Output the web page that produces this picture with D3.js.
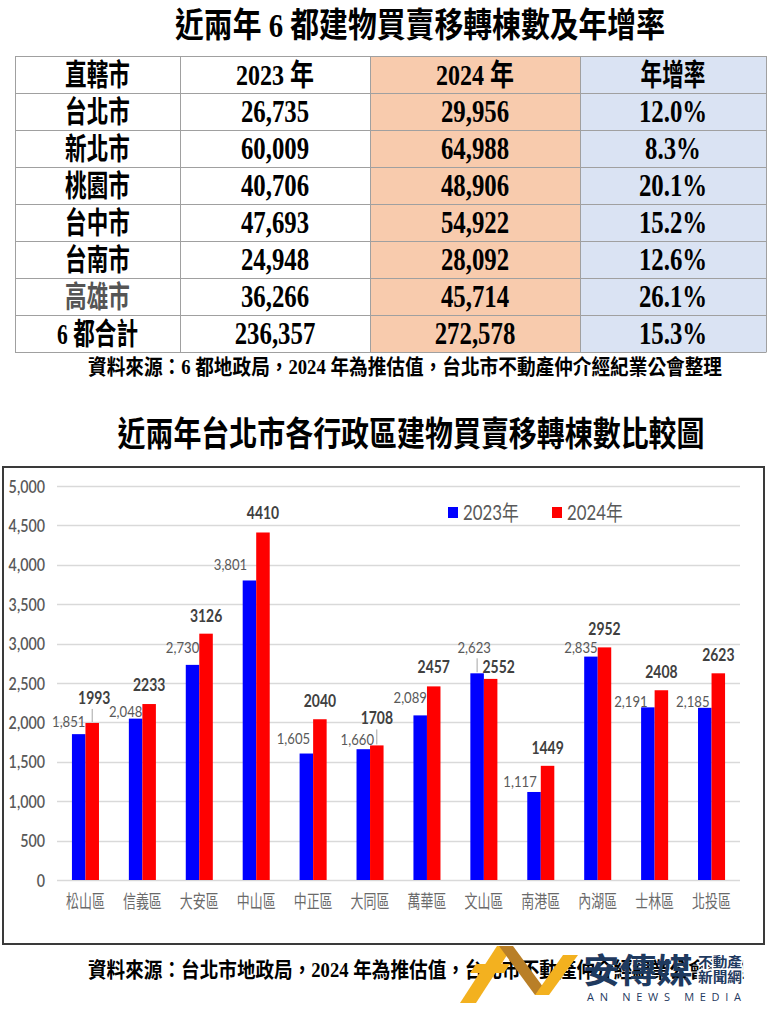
<!DOCTYPE html>
<html><head><meta charset="utf-8">
<script src="https://cdn.jsdelivr.net/npm/d3@7"></script>
<style>body{margin:0;background:#fff}svg{display:block}</style>
</head><body>
<svg id="c" width="768" height="1024"></svg>
<script>
// ---------------- data ----------------
const tableHeaders = ["直轄市", "2023 年", "2024 年", "年增率"];
const tableCities = ["台北市", "新北市", "桃園市", "台中市", "台南市", "高雄市", "6 都合計"];
const table2023 = [26735, 60009, 40706, 47693, 24948, 36266, 236357];
const table2024 = [29956, 64988, 48906, 54922, 28092, 45714, 272578];
const tableGrowth = [12.0, 8.3, 20.1, 15.2, 12.6, 26.1, 15.3];

const districts = ["松山區", "信義區", "大安區", "中山區", "中正區", "大同區", "萬華區", "文山區", "南港區", "內湖區", "士林區", "北投區"];
const values2023 = [1851, 2048, 2730, 3801, 1605, 1660, 2089, 2623, 1117, 2835, 2191, 2185];
const values2024 = [1993, 2233, 3126, 4410, 2040, 1708, 2457, 2552, 1449, 2952, 2408, 2623];
const seriesNames = ["2023年", "2024年"];
const yTicks = [0, 500, 1000, 1500, 2000, 2500, 3000, 3500, 4000, 4500, 5000];

const title1 = "近兩年 6 都建物買賣移轉棟數及年增率";
const title2 = "近兩年台北市各行政區建物買賣移轉棟數比較圖";
const note1 = "資料來源：6 都地政局，2024 年為推估值，台北市不動產仲介經紀業公會整理";
const note2 = "資料來源：台北市地政局，2024 年為推估值，台北市不動產仲介經紀業公會整理";

// label placement tweaks (layout only) [dx, dy]
const nudge2023 = [[0,-1],[0,4],[0,-6],[-9,-4],[-3,-4],[4,2],[0,-6],[7,-14],[-4,1],[0,2],[-7,6],[-2,5]];
const nudge2024 = [[2,-7],[0,-1],[0,0],[0,-1],[0,0],[0,-9],[0,-1],[8,6],[0,0],[0,0],[0,0],[0,0]];
const leaders = [["松山區", 1], ["大同區", 1], ["文山區", 0]];

// ---------------- helpers ----------------
const svg = d3.select("#c");
const SERIF = "'Liberation Serif','Noto Sans CJK TC',serif";
const CJK = "'Noto Sans CJK TC',sans-serif";
const SANS = "Lato,'Noto Sans CJK TC',sans-serif";

function ctext(parent, x, y, str, o) {
  const t = parent.append("text")
    .attr("transform", `translate(${x},${y}) scale(${o.sx || 1},1)`)
    .attr("text-anchor", o.anchor || "middle")
    .attr("font-family", o.family || SERIF)
    .attr("font-size", o.size)
    .attr("font-weight", o.weight || "normal")
    .attr("fill", o.fill || "#000")
    .text(str);
  if (o.len) t.attr("textLength", o.len).attr("lengthAdjust", o.adjust || "spacingAndGlyphs");
  return t;
}

// ---------------- title 1 ----------------
ctext(svg, 420, 37, title1, {size: 34, weight: "bold", len: 490});

// ---------------- table ----------------
const colEdges = [15, 180, 370, 580, 766];
const colFill = [null, null, "#f8cbad", "#dae3f3"];
const rowKeys = ["__h"].concat(tableCities);
const rowY = d3.scaleBand().domain(rowKeys).range([56, 352]);
const tg = svg.append("g");

colFill.forEach((f, i) => {
  if (f) tg.append("rect").attr("x", colEdges[i]).attr("y", rowY.range()[0])
    .attr("width", colEdges[i + 1] - colEdges[i]).attr("height", rowY.range()[1] - rowY.range()[0]).attr("fill", f);
});
rowKeys.forEach(k => {
  tg.append("line").attr("x1", colEdges[0]).attr("x2", colEdges[4])
    .attr("y1", rowY(k) + 0.5).attr("y2", rowY(k) + 0.5).attr("stroke", "#a0a0a0");
});
tg.append("line").attr("x1", colEdges[0]).attr("x2", colEdges[4])
  .attr("y1", 352.5).attr("y2", 352.5).attr("stroke", "#a0a0a0");
colEdges.forEach(x => {
  tg.append("line").attr("x1", x + 0.5).attr("x2", x + 0.5)
    .attr("y1", 56).attr("y2", 352.5).attr("stroke", "#a0a0a0");
});
const colCenter = i => (colEdges[i] + colEdges[i + 1]) / 2;
const fmtComma = d3.format(",");
const fmtPct = d => d3.format(".1f")(d) + "%";

tableHeaders.forEach((h, i) => {
  ctext(tg, colCenter(i), rowY("__h") + rowY.bandwidth() / 2 + 10, h,
    {size: 30, weight: "bold", sx: i === 0 || i === 3 ? 0.72 : 0.8});
});
tableCities.forEach((c, r) => {
  const yy = rowY(c) + rowY.bandwidth() / 2 + 10;
  ctext(tg, colCenter(0), yy, c, {size: 30, weight: "bold", sx: 0.72, fill: c === "高雄市" ? "#555" : "#000"});
  ctext(tg, colCenter(1), yy, fmtComma(table2023[r]), {size: 31, weight: "bold", sx: 0.8});
  ctext(tg, colCenter(2), yy, fmtComma(table2024[r]), {size: 31, weight: "bold", sx: 0.8});
  ctext(tg, colCenter(3), yy, fmtPct(tableGrowth[r]), {size: 31, weight: "bold", sx: 0.8});
});

ctext(svg, 405, 374, note1, {size: 21, weight: "bold", len: 634});

// ---------------- title 2 ----------------
ctext(svg, 411, 446, title2, {size: 34, weight: "bold", len: 587});

// ---------------- chart ----------------
svg.append("rect").attr("x", 3).attr("y", 467).attr("width", 761).attr("height", 477)
  .attr("fill", "#fff").attr("stroke", "#3a3a3a").attr("stroke-width", 2);

const x0 = d3.scaleBand().domain(districts).range([57, 740]).paddingInner(0.525).paddingOuter(0.2625);
const x1 = d3.scaleBand().domain(seriesNames).range([0, x0.bandwidth()]);
const y = d3.scaleLinear().domain([0, 5000]).range([880, 486]);
const colors = {"2023年": "#0000ff", "2024年": "#ff0000"};

const grid = svg.append("g");
grid.selectAll("line").data(yTicks).join("line")
  .attr("x1", 57).attr("x2", 740)
  .attr("y1", d => Math.round(y(d)) + 0.5).attr("y2", d => Math.round(y(d)) + 0.5)
  .attr("stroke", "#d9d9d9").attr("stroke-width", 1.3);

const yAxis = svg.append("g").attr("transform", "translate(45,0)")
  .call(d3.axisLeft(y).tickValues(yTicks).tickFormat(d3.format(",")).tickSize(0).tickPadding(0));
yAxis.select(".domain").remove();
yAxis.selectAll("text").attr("x", 0).attr("dy", "0.36em").attr("transform", "scale(0.84,1)")
  .attr("font-family", SANS).attr("font-size", 17).attr("font-weight", 600).attr("fill", "#595959");

const xAxis = svg.append("g").attr("transform", "translate(0,880)")
  .call(d3.axisBottom(x0).tickSize(0).tickPadding(0));
xAxis.select(".domain").remove();
xAxis.selectAll("text").attr("y", 0).attr("dy", null).attr("transform", "translate(0,28) scale(0.72,1)")
  .attr("font-family", CJK).attr("font-size", 18).attr("fill", "#6a6a6a");

const rows = districts.map((d, i) => ({d, i, vals: [values2023[i], values2024[i]]}));
const bars = svg.append("g");
rows.forEach(r => {
  r.vals.forEach((v, s) => {
    const name = seriesNames[s];
    bars.append("rect")
      .attr("x", x0(r.d) + x1(name)).attr("width", x1.bandwidth())
      .attr("y", y(v)).attr("height", y(0) - y(v))
      .attr("fill", colors[name]);
  });
});

// data labels
const lg = svg.append("g");
rows.forEach(r => {
  const bx = x0(r.d);
  const n0 = nudge2023[r.i];
  ctext(lg, bx + x1("2023年") + x1.bandwidth() + n0[0], y(r.vals[0]) - 6 + n0[1], fmtComma(r.vals[0]),
    {family: SANS, size: 16, sx: 0.82, anchor: "end", fill: "#595959"});
  const n1 = nudge2024[r.i];
  ctext(lg, bx + x1("2024年") + x1.bandwidth() / 2 + n1[0], y(r.vals[1]) - 12 + n1[1], String(r.vals[1]),
    {family: SANS, size: 17, sx: 0.82, weight: "bold", fill: "#404040"});
});
// leader lines
leaders.forEach(([d, s]) => {
  const i = districts.indexOf(d);
  const v = s === 0 ? values2023[i] : values2024[i];
  const name = seriesNames[s];
  const nd = s === 0 ? nudge2023[i] : nudge2024[i];
  const base = s === 0 ? -6 : -12;
  const lx = x0(d) + x1(name) + x1.bandwidth() / 2;
  lg.append("line").attr("x1", lx).attr("x2", lx)
    .attr("y1", y(v) + base + nd[1] + 5).attr("y2", y(v) - 1)
    .attr("stroke", "#a6a6a6").attr("stroke-width", 1);
});

// legend
const leg = svg.append("g");
[[448, 463], [552, 567]].forEach((p, i) => {
  leg.append("rect").attr("x", p[0]).attr("y", 507).attr("width", 10).attr("height", 11).attr("fill", colors[seriesNames[i]]);
  ctext(leg, p[1], 520, seriesNames[i], {family: SANS, size: 21, sx: 0.8, anchor: "start", fill: "#595959"});
});

// ---------------- footnote 2 + logo ----------------
ctext(svg, 88, 977, note2, {size: 21, weight: "bold", len: 656, anchor: "start"});

const logo = svg.append("g");
logo.append("polygon").attr("points", "460,1003 476,1003 513,946 497,946").attr("fill", "#f3b11f");
logo.append("polygon").attr("points", "476,964 510,964 504,973 470,973").attr("fill", "#f3b11f");
logo.append("polygon").attr("points", "499,946 513,946 549,995 535,995").attr("fill", "#b97f27");
logo.append("polygon").attr("points", "535,995 549,995 578,955 563,955").attr("fill", "#f3b11f");
ctext(logo, 583, 983, "安傳媒", {family: CJK, size: 34, weight: "bold", anchor: "start", len: 110, fill: "#1f3a5f"});
ctext(logo, 698, 967, "不動產", {family: CJK, size: 14, weight: "bold", anchor: "start", len: 44, fill: "#1f3a5f"})
  .attr("stroke", "#fff").attr("stroke-width", 3).attr("paint-order", "stroke");
ctext(logo, 698, 982, "新聞網", {family: CJK, size: 14, weight: "bold", anchor: "start", len: 44, fill: "#1f3a5f"})
  .attr("stroke", "#fff").attr("stroke-width", 3).attr("paint-order", "stroke");
ctext(logo, 587, 1001, "AN NEWS MEDIA", {family: "'Open Sans',sans-serif", size: 11, anchor: "start", len: 154, adjust: "spacing", fill: "#1f3a5f"});
</script>
</body></html>
